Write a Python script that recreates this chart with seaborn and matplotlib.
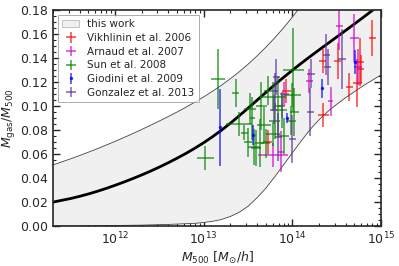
import numpy as np
import matplotlib
matplotlib.use("Agg")
import matplotlib.pyplot as plt
from matplotlib.patches import Patch
from matplotlib.ticker import AutoMinorLocator
import seaborn as sns

# model band ("this work"), log10 M500 grid, 0.1 dex steps
model_logm = [11.3, 11.4, 11.5, 11.6, 11.7, 11.8, 11.9, 12.0, 12.1, 12.2,
              12.3, 12.4, 12.5, 12.6, 12.7, 12.8, 12.9, 13.0, 13.1, 13.2,
              13.3, 13.4, 13.5, 13.6, 13.7, 13.8, 13.9, 14.0, 14.1, 14.2,
              14.3, 14.4, 14.5, 14.6, 14.7, 14.8, 14.9, 15.0]
model_mean = [0.0200, 0.0215, 0.0230, 0.0248, 0.0268, 0.0290, 0.0314, 0.0340, 0.0367, 0.0396,
              0.0426, 0.0458, 0.0492, 0.0528, 0.0566, 0.0606, 0.0649, 0.0695, 0.0745, 0.0799,
              0.0857, 0.0919, 0.0983, 0.1048, 0.1113, 0.1177, 0.1239, 0.1299, 0.1357, 0.1413,
              0.1468, 0.1522, 0.1576, 0.1630, 0.1685, 0.1740, 0.1796, 0.1852]
model_upper = [0.0510, 0.0535, 0.0561, 0.0588, 0.0616, 0.0645, 0.0675, 0.0706, 0.0738, 0.0771,
               0.0805, 0.0840, 0.0876, 0.0913, 0.0951, 0.0991, 0.1033, 0.1077, 0.1124, 0.1174,
               0.1228, 0.1286, 0.1349, 0.1417, 0.1490, 0.1568, 0.1652, 0.1742, 0.1838, 0.1940,
               0.2040, 0.2140, 0.2240, 0.2340, 0.2440, 0.2540, 0.2640, 0.2740]
model_lower = [0.0000, 0.0000, 0.0000, 0.0001, 0.0002, 0.0003, 0.0004, 0.0005, 0.0006, 0.0007,
               0.0008, 0.0010, 0.0012, 0.0014, 0.0017, 0.0020, 0.0023, 0.0030, 0.0040, 0.0055,
               0.0080, 0.0115, 0.0165, 0.0235, 0.0315, 0.0410, 0.0510, 0.0610, 0.0710, 0.0805,
               0.0885, 0.0955, 0.1015, 0.1070, 0.1120, 0.1170, 0.1215, 0.1260]

# Vikhlinin et al. 2006
vik_logm = [14.90, 14.34, 14.51, 14.76, 14.77, 14.64, 14.73, 14.35, 13.93, 13.72]
vik_f = [0.157, 0.138, 0.138, 0.137, 0.131, 0.116, 0.119, 0.093, 0.113, 0.070]
vik_dx = [0.04, 0.04, 0.04, 0.05, 0.04, 0.04, 0.05, 0.06, 0.05, 0.05]
vik_df = [0.015, 0.010, 0.015, 0.020, 0.012, 0.012, 0.020, 0.010, 0.010, 0.010]

# Arnaud et al. 2007
arn_logm = [14.53, 14.70, 14.74, 14.19, 14.43, 13.91, 13.78, 13.87, 13.88]
arn_f = [0.167, 0.157, 0.133, 0.121, 0.104, 0.110, 0.059, 0.062, 0.100]
arn_dx = [0.04, 0.05, 0.04, 0.04, 0.03, 0.05, 0.17, 0.03, 0.04]
arn_df = [0.020, 0.020, 0.015, 0.010, 0.012, 0.010, 0.010, 0.017, 0.010]

# Sun et al. 2008
sun_logm = [13.16, 13.02, 13.36, 13.40, 13.52, 13.46, 13.63, 13.59, 14.01, 14.00,
            13.78, 13.80, 13.70, 13.99, 13.78, 13.65, 13.68, 13.88, 13.57, 13.72,
            13.90, 14.02, 13.50, 13.84, 13.55]
sun_f = [0.123, 0.057, 0.111, 0.085, 0.098, 0.078, 0.069, 0.065, 0.130, 0.109,
         0.108, 0.088, 0.069, 0.088, 0.077, 0.100, 0.084, 0.097, 0.066, 0.113,
         0.075, 0.095, 0.070, 0.100, 0.090]
sun_dx = [0.08, 0.10, 0.04, 0.15, 0.07, 0.04, 0.05, 0.06, 0.12, 0.10,
          0.15, 0.06, 0.05, 0.05, 0.08, 0.06, 0.08, 0.06, 0.07, 0.04,
          0.06, 0.05, 0.05, 0.05, 0.03]
sun_df = [0.025, 0.010, 0.012, 0.010, 0.013, 0.006, 0.020, 0.015, 0.035, 0.010,
          0.012, 0.015, 0.012, 0.012, 0.010, 0.020, 0.015, 0.015, 0.015, 0.012,
          0.015, 0.020, 0.012, 0.025, 0.018]

# Giodini et al. 2009
gio_logm = [13.18, 13.56, 13.94, 14.33, 14.71]
gio_f = [0.0825, 0.076, 0.090, 0.115, 0.137]
gio_df = [0.032, 0.008, 0.004, 0.008, 0.010]

# Gonzalez et al. 2013
gon_logm = [14.38, 14.40, 14.56, 14.21, 14.20, 13.82, 13.79, 13.84, 14.00, 13.80]
gon_f = [0.143, 0.133, 0.139, 0.127, 0.095, 0.124, 0.097, 0.074, 0.073, 0.113]
gon_dx = [0.04, 0.04, 0.04, 0.04, 0.04, 0.04, 0.04, 0.04, 0.04, 0.04]
gon_df = [0.017, 0.015, 0.025, 0.012, 0.020, 0.015, 0.012, 0.020, 0.020, 0.015]


def xerr_from_dex(logm, dex):
    m = 10 ** np.asarray(logm)
    d = np.asarray(dex)
    return m, np.vstack([m - m * 10 ** (-d), m * 10 ** d - m])


sns.set_style("ticks")
plt.rcParams["font.family"] = ["DejaVu Sans"]
plt.rcParams["mathtext.fontset"] = "dejavusans"

fig, ax = plt.subplots(figsize=(3.99, 2.66), dpi=100)
fig.subplots_adjust(left=0.133, right=0.955, top=0.962, bottom=0.150)

mm = 10 ** np.asarray(model_logm)
ax.fill_between(mm, model_lower, model_upper, color="#f0f0f0", lw=0)
ax.plot(mm, model_upper, color="#444444", lw=0.6)
ax.plot(mm, model_lower, color="#444444", lw=0.6)
sns.lineplot(x=mm, y=model_mean, ax=ax, color="black", lw=2.0)

eb_kw = dict(fmt="none", elinewidth=1.2, alpha=0.7, capsize=0)
handles = [Patch(facecolor="#f0f0f0", edgecolor="#bbbbbb", lw=0.6, label="this work")]

for logm, f, dx, df, col, lab in [
    (vik_logm, vik_f, vik_dx, vik_df, "red", "Vikhlinin et al. 2006"),
    (arn_logm, arn_f, arn_dx, arn_df, "#cc00cc", "Arnaud et al. 2007"),
    (sun_logm, sun_f, sun_dx, sun_df, "green", "Sun et al. 2008"),
]:
    m, xe = xerr_from_dex(logm, dx)
    h = ax.errorbar(m, f, xerr=xe, yerr=df, ecolor=col, color=col, label=lab, **eb_kw)
    handles.append(h)

h = ax.errorbar(10 ** np.asarray(gio_logm), gio_f, yerr=gio_df, fmt=".", ms=3,
                color="blue", ecolor="blue", elinewidth=1.2, alpha=0.7,
                label="Giodini et al. 2009")
handles.append(h)

m, xe = xerr_from_dex(gon_logm, gon_dx)
h = ax.errorbar(m, gon_f, xerr=xe, yerr=gon_df, ecolor="#5b2c9e", color="#5b2c9e",
                label="Gonzalez et al. 2013", **eb_kw)
handles.append(h)

ax.set_xscale("log")
ax.set_xlim(2e11, 1e15)
ax.set_ylim(0, 0.18)
ax.set_yticks(np.arange(0, 0.181, 0.02))
ax.yaxis.set_minor_locator(AutoMinorLocator(4))
ax.tick_params(which="both", direction="in", top=True, right=True, labelsize=9)
ax.tick_params(which="major", length=5, width=1)
ax.tick_params(which="minor", length=2.5, width=0.8)
for s in ax.spines.values():
    s.set_linewidth(1.2)

ax.set_xlabel(r"$M_{500}$ $[M_{\odot}/h]$", fontsize=9, labelpad=2)
ax.set_ylabel(r"$M_{\rm gas}/M_{500}$", fontsize=9, labelpad=2)

leg = ax.legend(handles=handles, loc="upper left", fontsize=7.5, frameon=True,
                fancybox=False, edgecolor="#888888", handlelength=1.6,
                labelspacing=0.35, borderpad=0.4)
leg.get_frame().set_linewidth(0.6)

fig.savefig("out.png", dpi=100)
